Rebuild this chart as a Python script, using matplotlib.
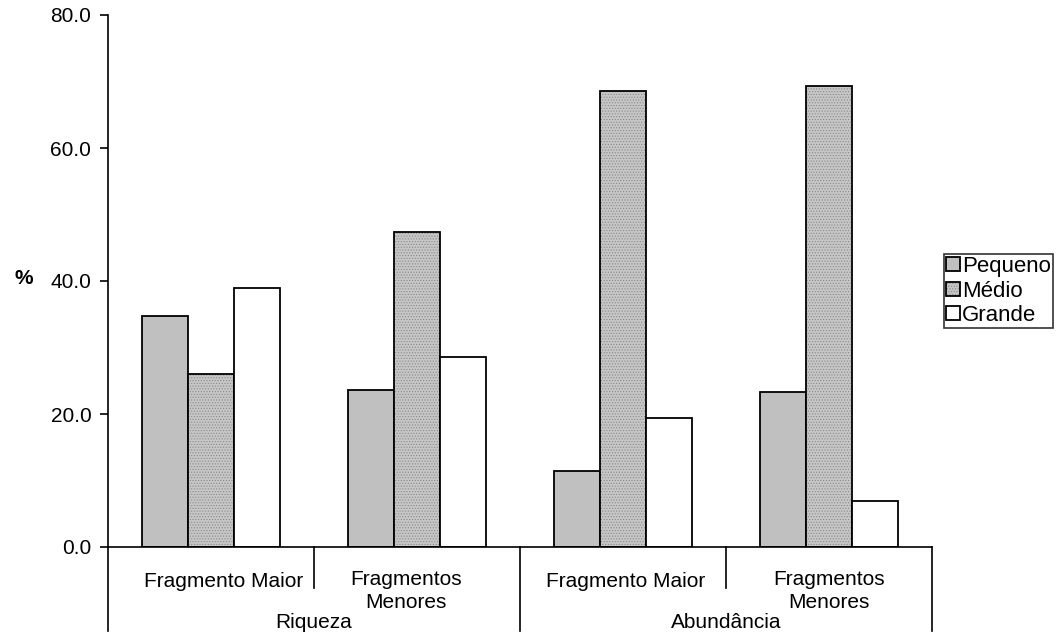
import numpy as np
import matplotlib.pyplot as plt
from matplotlib.transforms import offset_copy
from matplotlib.legend_handler import HandlerTuple

plt.rcParams['font.family'] = ['Liberation Sans', 'DejaVu Sans']
plt.rcParams['hatch.linewidth'] = 0.5

# dados (%)
categorias = ['Fragmento Maior', 'Fragmentos\nMenores', 'Fragmento Maior', 'Fragmentos\nMenores']
grupos = ['Riqueza', 'Abundância']
series = ['Pequeno', 'Médio', 'Grande']
pequeno = [34.7, 23.6, 11.5, 23.3]
medio = [26.0, 47.3, 68.6, 69.3]
grande = [38.9, 28.5, 19.4, 6.9]
yticks = [0, 20, 40, 60, 80]

fig = plt.figure(figsize=(10.57, 6.39), dpi=100)
ax = fig.add_axes([108 / 1057, 1 - 547 / 639, 824 / 1057, 532 / 639])

x = np.arange(len(categorias))
w = 46 / 206

b1 = ax.bar(x - w, pequeno, w, color='#c0c0c0', edgecolor='black', linewidth=1.3)
b2h = ax.bar(x, medio, w, color='#c6c6c6', edgecolor='#8a8a8a', linewidth=0, hatch='......')
b2 = ax.bar(x, medio, w, fill=False, edgecolor='black', linewidth=1.3)
b3 = ax.bar(x + w, grande, w, color='white', edgecolor='black', linewidth=1.3)

ax.set_xlim(-0.5, len(categorias) - 0.5)
ax.set_ylim(0, 80)
ax.set_yticks(yticks)
ax.set_yticklabels(['%.1f' % v for v in yticks], fontsize=15)
ax.tick_params(axis='y', direction='out', length=6, width=1.2, pad=6)
ax.tick_params(axis='x', length=0, labelbottom=False)
for s in ['top', 'right']:
    ax.spines[s].set_visible(False)
ax.spines['left'].set_linewidth(1.2)
ax.spines['bottom'].set_linewidth(1.2)

# linhas divisórias do eixo x
tr = ax.get_xaxis_transform()
for i in range(len(categorias) + 1):
    xd = i - 0.5
    fundo = -0.158 if i % 2 == 0 else -0.077
    ax.plot([xd, xd], [0, fundo], transform=tr, color='black', lw=1.2, clip_on=False)

# rótulos das categorias
dx = [13, -11, 3, 0]
for i, lab in enumerate(categorias):
    linhas = lab.split('\n')
    y0 = 40 if len(linhas) == 1 else 38
    for j, ln in enumerate(linhas):
        t = offset_copy(tr, fig=fig, x=dx[i], y=-(y0 + 23 * j), units='dots')
        ax.text(i, 0, ln, transform=t, ha='center', va='baseline', fontsize=15)
for k, g in enumerate(grupos):
    t = offset_copy(tr, fig=fig, x=0, y=-81, units='dots')
    ax.text(2 * k + 0.5, 0, g, transform=t, ha='center', va='baseline', fontsize=15)

fig.text(24 / 1057, 1 - 278 / 639, '%', ha='center', va='center', fontsize=15, fontweight='bold')

leg = fig.legend([b1, (b2h, b2), b3], series, loc='upper left',
                 bbox_to_anchor=(944 / 1057, 1 - 254 / 639), borderaxespad=0,
                 fontsize=16, frameon=True, fancybox=False, handlelength=0.6,
                 handleheight=0.6, handletextpad=0.1, borderpad=0.1,
                 labelspacing=0.15, handler_map={tuple: HandlerTuple(ndivide=1, pad=0)})
leg.get_frame().set_edgecolor('black')
leg.get_frame().set_linewidth(1.2)

fig.savefig('out.png', dpi=100)
